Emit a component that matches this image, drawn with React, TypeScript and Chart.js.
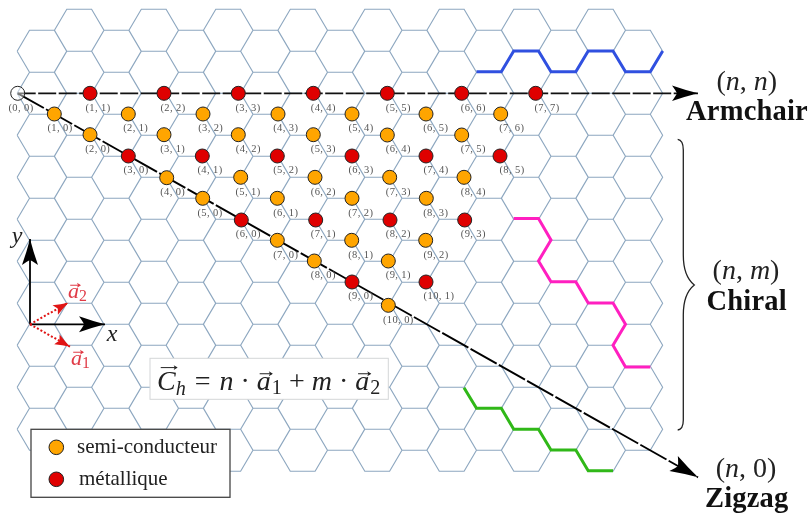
import React, { useEffect, useRef } from "react";
import { Chart, registerables } from "chart.js";

Chart.register(...registerables);

const W = 809;
const H = 513;

// [label, x, y, labelX]
type P = [string, number, number, number];

const origin: P[] = [["(0, 0)", 17.7, 93.3, 21]];

const semiconductor: P[] = [
  ["(1, 0)", 54.3, 114, 60],
  ["(2, 1)", 128.3, 114, 135.7],
  ["(3, 2)", 203, 114, 210.7],
  ["(4, 3)", 278, 114, 285.7],
  ["(5, 4)", 352, 114, 361],
  ["(6, 5)", 426, 114, 435.7],
  ["(7, 6)", 500.7, 114, 511.7],
  ["(2, 0)", 90, 134.7, 97.7],
  ["(3, 1)", 164, 134.7, 172.7],
  ["(4, 2)", 238.3, 134.7, 248.3],
  ["(5, 3)", 313.3, 134.7, 323.3],
  ["(6, 4)", 387.3, 135, 398.3],
  ["(7, 5)", 461.7, 135, 473.3],
  ["(4, 0)", 166.7, 177.7, 172.7],
  ["(5, 1)", 240.7, 177.3, 248],
  ["(6, 2)", 315, 177.3, 323.3],
  ["(7, 3)", 389.7, 177.3, 398.3],
  ["(8, 4)", 464, 177.3, 473.3],
  ["(5, 0)", 202.7, 198.3, 210],
  ["(6, 1)", 277.3, 198.3, 285.7],
  ["(7, 2)", 352, 198.3, 360.7],
  ["(8, 3)", 426.3, 198.3, 435.7],
  ["(7, 0)", 277.3, 240.3, 285.7],
  ["(8, 1)", 351.7, 240.3, 360.7],
  ["(9, 2)", 425.7, 240.3, 436],
  ["(8, 0)", 314.3, 261, 323.3],
  ["(9, 1)", 388.3, 261, 398.3],
  ["(10, 0)", 388.3, 305.3, 398.3],
];

const metallic: P[] = [
  ["(1, 1)", 90, 93.3, 98],
  ["(2, 2)", 164, 93.3, 173],
  ["(3, 3)", 238.3, 93.3, 248],
  ["(4, 4)", 313.3, 93.3, 323.3],
  ["(5, 5)", 387.3, 93.3, 398.3],
  ["(6, 6)", 461.7, 93.3, 473.3],
  ["(7, 7)", 535.7, 93.3, 547],
  ["(3, 0)", 128.3, 156, 136],
  ["(4, 1)", 202.3, 156, 210],
  ["(5, 2)", 277.3, 156, 285.7],
  ["(6, 3)", 352, 156, 361],
  ["(7, 4)", 426, 156, 436],
  ["(8, 5)", 500, 156, 512],
  ["(6, 0)", 241.3, 220, 248.3],
  ["(7, 1)", 315.7, 220, 323.3],
  ["(8, 2)", 390, 220, 398.3],
  ["(9, 3)", 464.7, 220, 473.3],
  ["(9, 0)", 352, 282, 360.7],
  ["(10, 1)", 426, 282, 439],
];

// Hexagon lattice: column centres and row heights of the sheet
const hexColumnX = [
  41.9, 79.2, 116.4, 153.7, 190.9, 228.2, 265.4, 302.7, 339.9, 377.2, 414.4, 451.7, 488.9, 526.2, 563.4, 600.7, 637.9,
];
const hexRowY = [
  9.3, 30.3, 51.3, 72.3, 93.3, 114.3, 135.3, 156.3, 177.3, 198.3, 219.3, 240.3, 261.3, 282.3, 303.3, 324.3, 345.3,
  366.3, 387.3, 408.3, 429.3, 450.3, 471.3,
];

const armchairAxisX = [17.7, 698];
const armchairAxisY = [93.3, 93.3];
const zigzagAxisX = [17.7, 698];
const zigzagAxisY = [93.3, 477.3];

const blueX = [476.5, 501.3, 513.7, 538.5, 551, 575.8, 588.2, 613, 625.5, 650.3, 662.7];
const blueY = [71.8, 71.8, 51, 51, 71.8, 71.8, 51, 51, 71.8, 71.8, 51];
const magentaX = [513.7, 538.5, 551, 538.5, 551, 575.8, 588.2, 613, 625.5, 613, 625.5, 650.3];
const magentaY = [218.5, 218.5, 240, 261, 281.7, 281.7, 303, 303, 324.3, 345.3, 367, 367];
const greenX = [464, 476.5, 501.3, 513.7, 538.5, 551, 575.8, 588.2, 613];
const greenY = [387.7, 408.3, 408.3, 429.3, 429.3, 450, 450, 470.7, 470.7];

const xAxisArrowX = [30, 105];
const xAxisArrowY = [324.3, 324.3];
const yAxisArrowX = [30, 30];
const yAxisArrowY = [324.3, 239];
const a1X = [30, 70];
const a1Y = [324.3, 346.7];
const a2X = [30, 68.3];
const a2Y = [324.3, 302.7];

const legendLabels = ["semi-conducteur", "métallique"];

const ORANGE = "#ffa500";
const RED = "#df0000";
const SERIF = '"Liberation Serif", serif';

const xy = (xs: number[], ys: number[]) => xs.map((x, i) => ({ x, y: ys[i] }));
const pts = (list: P[]) => list.map((p) => ({ x: p[1], y: p[2] }));

function latticeSegments() {
  const out: { x: number; y: number }[] = [];
  hexColumnX.forEach((cx, col) => {
    const first = col % 2 === 0 ? 2 : 1;
    const last = col % 2 === 0 ? 20 : 21;
    for (let r = first; r <= last; r += 2) {
      const top = hexRowY[r - 1];
      const mid = hexRowY[r];
      const bot = hexRowY[r + 1];
      out.push(
        { x: cx - 24.75, y: mid },
        { x: cx - 12.4, y: top },
        { x: cx + 12.4, y: top },
        { x: cx + 24.75, y: mid },
        { x: cx + 12.4, y: bot },
        { x: cx - 12.4, y: bot },
        { x: cx - 24.75, y: mid },
        { x: NaN, y: NaN }
      );
    }
  });
  return out;
}

type Run = { t: string; it?: boolean; k?: number; dy?: number; gap?: number; arrow?: boolean };

function smallArrow(ctx: CanvasRenderingContext2D, x0: number, x1: number, y: number, color: string, lw: number) {
  ctx.strokeStyle = color;
  ctx.fillStyle = color;
  ctx.lineWidth = lw;
  ctx.beginPath();
  ctx.moveTo(x0, y);
  ctx.lineTo(x1, y);
  ctx.stroke();
  ctx.beginPath();
  ctx.moveTo(x1 + 1, y);
  ctx.lineTo(x1 - 3, y - 2.4);
  ctx.lineTo(x1 - 2, y);
  ctx.lineTo(x1 - 3, y + 2.4);
  ctx.closePath();
  ctx.fill();
}

function drawRuns(ctx: CanvasRenderingContext2D, runs: Run[], x: number, y: number, size: number, color: string) {
  let cx = x;
  ctx.textAlign = "left";
  ctx.textBaseline = "alphabetic";
  for (const r of runs) {
    const s = size * (r.k ?? 1);
    ctx.font = `${r.it ? "italic " : ""}${s}px ${SERIF}`;
    ctx.fillStyle = color;
    ctx.fillText(r.t, cx, y + (r.dy ?? 0));
    const w = ctx.measureText(r.t).width;
    if (r.arrow) {
      const h = s * (r.t === "C" ? 0.8 : 0.58);
      smallArrow(ctx, cx + w * 0.2, cx + w + 1, y - h, color, 1);
      ctx.fillStyle = color;
    }
    cx += w + (r.gap ?? 0);
  }
}

function head(
  ctx: CanvasRenderingContext2D,
  fx: number,
  fy: number,
  tx: number,
  ty: number,
  len: number,
  half: number,
  notch: number,
  color: string
) {
  const L = Math.hypot(tx - fx, ty - fy);
  const ux = (tx - fx) / L;
  const uy = (ty - fy) / L;
  const P = (a: number, b: number): [number, number] => [tx - ux * a - uy * b, ty - uy * a + ux * b];
  ctx.fillStyle = color;
  ctx.beginPath();
  ctx.moveTo(tx, ty);
  ctx.quadraticCurveTo(...P(len * 0.5, half * 0.42), ...P(len, half));
  ctx.quadraticCurveTo(...P(notch + 1, half * 0.3), ...P(notch, 0));
  ctx.quadraticCurveTo(...P(notch + 1, -half * 0.3), ...P(len, -half));
  ctx.quadraticCurveTo(...P(len * 0.5, -half * 0.42), tx, ty);
  ctx.closePath();
  ctx.fill();
}

const overlay = {
  id: "overlay",
  afterDatasetsDraw(chart: any) {
    const { ctx, scales } = chart;
    const X = (v: number) => scales.x.getPixelForValue(v);
    const Y = (v: number) => scales.y.getPixelForValue(v);
    ctx.save();

    const arrowFrom = (xs: number[], ys: number[], len: number, half: number, notch: number, color: string) =>
      head(ctx, X(xs[0]), Y(ys[0]), X(xs[1]), Y(ys[1]), len, half, notch, color);
    arrowFrom(armchairAxisX, armchairAxisY, 26, 7.8, 21, "#000");
    arrowFrom(zigzagAxisX, zigzagAxisY, 28, 8.6, 23, "#000");
    arrowFrom(xAxisArrowX, xAxisArrowY, 26, 8, 21, "#000");
    arrowFrom(yAxisArrowX, yAxisArrowY, 26, 8, 21, "#000");
    arrowFrom(a1X, a1Y, 15, 5.5, 12, "#e01414");
    arrowFrom(a2X, a2Y, 15, 5.5, 12, "#e01414");

    // point labels
    ctx.font = `10.5px ${SERIF}`;
    (ctx as any).letterSpacing = "0.4px";
    ctx.fillStyle = "#555";
    ctx.textAlign = "center";
    ctx.textBaseline = "middle";
    [...origin, ...semiconductor, ...metallic].forEach((p) => {
      ctx.fillText(p[0], X(p[3]), Y(p[2]) + 14.5);
    });
    (ctx as any).letterSpacing = "0px";

    // equation box
    ctx.fillStyle = "#fff";
    ctx.strokeStyle = "#d4d6d8";
    ctx.lineWidth = 1;
    ctx.fillRect(X(150), Y(358.3), X(388.3) - X(150), Y(399.3) - Y(358.3));
    ctx.strokeRect(X(150), Y(358.3), X(388.3) - X(150), Y(399.3) - Y(358.3));
    drawRuns(
      ctx,
      [
        { t: "C", it: true, arrow: true },
        { t: "h", it: true, k: 0.72, dy: 5, gap: 9 },
        { t: "=", gap: 9 },
        { t: "n", it: true, gap: 7 },
        { t: "·", gap: 7 },
        { t: "a", it: true, arrow: true, gap: 1 },
        { t: "1", k: 0.72, dy: 4, gap: 7 },
        { t: "+", gap: 7 },
        { t: "m", it: true, gap: 7 },
        { t: "·", gap: 7 },
        { t: "a", it: true, arrow: true, gap: 1 },
        { t: "2", k: 0.72, dy: 4 },
      ],
      X(157),
      Y(390),
      28,
      "#222"
    );

    // legend box
    ctx.fillStyle = "#fff";
    ctx.strokeStyle = "#444";
    ctx.lineWidth = 1.3;
    ctx.fillRect(X(31), Y(429.3), X(230) - X(31), Y(497.3) - Y(429.3));
    ctx.strokeRect(X(31), Y(429.3), X(230) - X(31), Y(497.3) - Y(429.3));
    [ORANGE, RED].forEach((c, i) => {
      ctx.beginPath();
      ctx.arc(X(56.3), Y(i === 0 ? 447.3 : 479.3), 7.3, 0, Math.PI * 2);
      ctx.fillStyle = c;
      ctx.fill();
      ctx.strokeStyle = "#222";
      ctx.lineWidth = 1;
      ctx.stroke();
    });
    ctx.font = `21px ${SERIF}`;
    ctx.fillStyle = "#222";
    ctx.textAlign = "left";
    ctx.textBaseline = "alphabetic";
    ctx.fillText(legendLabels[0], X(77), Y(453));
    ctx.fillText(legendLabels[1], X(79), Y(485));

    // axis letters
    ctx.font = `italic 24px ${SERIF}`;
    ctx.fillStyle = "#222";
    ctx.textAlign = "center";
    ctx.fillText("y", X(17), Y(243));
    ctx.fillText("x", X(112), Y(341));

    drawRuns(
      ctx,
      [
        { t: "a", it: true, arrow: true },
        { t: "2", k: 0.72, dy: 3 },
      ],
      X(68),
      Y(298),
      22,
      "#e03a46"
    );
    drawRuns(
      ctx,
      [
        { t: "a", it: true, arrow: true },
        { t: "1", k: 0.72, dy: 3 },
      ],
      X(71),
      Y(365),
      22,
      "#e03a46"
    );

    // right-hand captions
    const center = (runs: Run[], cx: number, y: number, size: number) => {
      let w = 0;
      runs.forEach((r) => {
        ctx.font = `${r.it ? "italic " : ""}${size}px ${SERIF}`;
        w += ctx.measureText(r.t).width + (r.gap ?? 0);
      });
      drawRuns(ctx, runs, cx - w / 2, y, size, "#222");
    };
    center([{ t: "(" }, { t: "n", it: true }, { t: ",", gap: 7 }, { t: "n", it: true }, { t: ")" }], X(746.7), Y(90), 28);
    center([{ t: "(" }, { t: "n", it: true }, { t: ",", gap: 7 }, { t: "m", it: true }, { t: ")" }], X(746), Y(279), 28);
    center([{ t: "(" }, { t: "n", it: true }, { t: ",", gap: 7 }, { t: "0" }, { t: ")" }], X(746), Y(477), 28);

    ctx.font = `bold 28.5px ${SERIF}`;
    ctx.fillStyle = "#111";
    ctx.textAlign = "center";
    (ctx as any).letterSpacing = "0.2px";
    ctx.fillText("Armchair", X(747), Y(120));
    ctx.fillText("Chiral", X(746.7), Y(310));
    ctx.fillText("Zigzag", X(746.7), Y(507));
    (ctx as any).letterSpacing = "0px";

    // brace
    ctx.strokeStyle = "#222";
    ctx.lineWidth = 1.3;
    ctx.beginPath();
    ctx.moveTo(X(677.7), Y(139.3));
    ctx.bezierCurveTo(X(681.5), Y(139.8), X(683.3), Y(143), X(683.3), Y(150));
    ctx.lineTo(X(683.3), Y(255));
    ctx.bezierCurveTo(X(683.3), Y(272), X(688), Y(280), X(694.3), Y(285));
    ctx.bezierCurveTo(X(688), Y(290), X(683.3), Y(298), X(683.3), Y(315));
    ctx.lineTo(X(683.3), Y(420));
    ctx.bezierCurveTo(X(683.3), Y(426), X(681.5), Y(429.5), X(677.7), Y(430));
    ctx.stroke();
    ctx.restore();
  },
};

export default function App() {
  const ref = useRef<HTMLCanvasElement>(null);
  useEffect(() => {
    if (!ref.current) return;
    const line = (data: any[], color: string, width: number, order: number, extra: any = {}) => ({
      type: "scatter" as const,
      data,
      showLine: true,
      borderColor: color,
      borderWidth: width,
      pointRadius: 0,
      spanGaps: false,
      tension: 0,
      fill: false,
      order,
      ...extra,
    });
    const dots = (data: any[], color: string, order: number) => ({
      type: "scatter" as const,
      data,
      showLine: false,
      backgroundColor: color,
      borderColor: "#222",
      pointBorderColor: "#222",
      pointBackgroundColor: color,
      pointRadius: 7,
      pointBorderWidth: 1,
      order,
    });
    const chart = new Chart(ref.current, {
      type: "scatter",
      data: {
        datasets: [
          line(latticeSegments(), "rgba(95,132,166,0.72)", 1.1, 20),
          line(xy(blueX, blueY), "#3050e0", 3, 15, { borderJoinStyle: "miter" }),
          line(xy(magentaX, magentaY), "#ff1fc0", 3, 15, { borderJoinStyle: "miter" }),
          line(xy(greenX, greenY), "#30b818", 3, 15, { borderJoinStyle: "miter" }),
          line(xy(armchairAxisX, armchairAxisY), "#111", 1.8, 10, { borderDash: [18, 2.5] }),
          line(xy(zigzagAxisX, zigzagAxisY), "#000", 1.9, 10, { borderDash: [30, 2.5] }),
          line(xy(xAxisArrowX, xAxisArrowY), "#000", 1.8, 9),
          line(xy(yAxisArrowX, yAxisArrowY), "#000", 1.8, 9),
          line(xy(a1X, a1Y), "#e01414", 2, 8, { borderDash: [2, 2] }),
          line(xy(a2X, a2Y), "#e01414", 2, 8, { borderDash: [2, 2] }),
          dots(pts(origin), "rgba(255,255,255,0.45)", 5),
          dots(pts(semiconductor), ORANGE, 4),
          dots(pts(metallic), RED, 3),
        ],
      },
      options: {
        animation: false,
        responsive: false,
        devicePixelRatio: 1,
        layout: { padding: 0, autoPadding: false },
        plugins: { legend: { display: false }, tooltip: { enabled: false } },
        scales: {
          x: { type: "linear", display: false, min: 0, max: W },
          y: { type: "linear", display: false, min: 0, max: H, reverse: true },
        },
      },
      plugins: [overlay],
    } as any);
    return () => chart.destroy();
  }, []);
  return (
    <div style={{ position: "fixed", left: 0, top: 0, width: W, height: H, background: "#fff" }}>
      <canvas ref={ref} width={W} height={H} style={{ display: "block", filter: "blur(0.3px)" }} />
    </div>
  );
}
